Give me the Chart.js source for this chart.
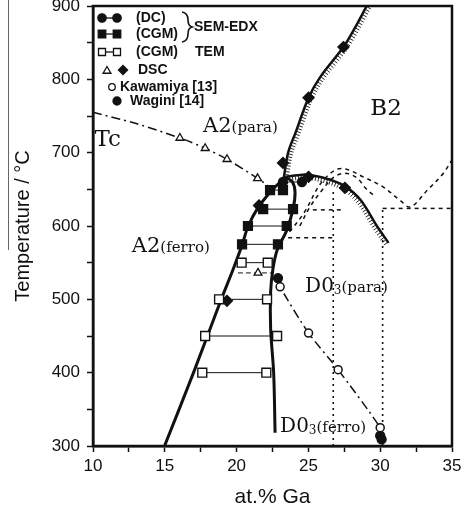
<!DOCTYPE html>
<html>
<head>
<meta charset="utf-8">
<script src="https://cdn.jsdelivr.net/npm/chart.js@4.4.1/dist/chart.umd.min.js"></script>
<style>
  html, body { margin: 0; padding: 0; background: #fff; }
  canvas { display: block; }
</style>
</head>
<body>
<canvas id="chart" width="462" height="511"></canvas>
<script>
const INK = '#111';

// --- phase boundaries (at.% Ga / °C) ---
const leftBoundGa = [14.98, 17.0, 18.93, 19.74, 20.38, 20.79, 21.49, 22.33, 23.03, 23.28];
const leftBoundT = [300, 400, 500, 540, 574, 599, 625, 646, 660, 665];
const rightBoundGa = [22.68, 22.58, 22.37, 22.37, 22.52, 22.82, 23.49, 23.94, 24.07, 23.89, 23.39];
const rightBoundT = [318, 400, 460, 510, 540, 567, 594, 624, 646, 660, 667];
const b2Ga = [23.28, 23.59, 24.1, 25.01, 25.82, 27.44, 28.15, 29.06];
const b2T = [665, 700, 727, 775, 803, 844, 867, 900];
const d03Ga = [23.39, 24.6, 25.31, 26.53, 27.64, 28.65, 29.77, 30.58];
const d03T = [667, 670, 669, 663, 653, 635, 600, 577];
const tcGa = [10, 12.95, 16.05, 17.81, 19.33, 21.46, 22.37];
const tcT = [755, 740, 720, 706, 691, 665, 652];
const kawaLineGa = [22.88, 23.03, 25.01, 27.07, 30.0, 30.25];
const kawaLineT = [532, 517, 454, 404, 325, 303];

// metastable (dashed / dotted)
const metaV1Ga = [26.73, 26.73], metaV1T = [300, 650];
const metaH1Ga = [23.59, 26.73], metaH1T = [584, 584];
const metaV2Ga = [30.17, 30.17], metaV2T = [300, 624];
const metaH2Ga = [30.17, 35.0], metaH2T = [624, 624];
const metaH3Ga = [25.31, 27.34], metaH3T = [622, 622];
const metaArcGa = [23.69, 24.7, 25.82, 26.83, 27.54, 28.82, 30.22, 31.39, 32.1, 33.29, 34.4, 35];
const metaArcT = [592, 618, 657, 676, 678, 667, 653, 635, 626, 649, 672, 690];
const metaArc2Ga = [24.4, 25.11, 25.92, 26.73, 27.54, 28.35, 29.06, 29.67];
const metaArc2T = [600, 626, 648, 666, 672, 666, 650, 640];

// --- measured points ---
const dcGa = [23.23, 24.55], dcT = [660, 660];
const semLeftGa = [22.33, 21.85, 20.79, 20.38];
const semRightGa = [23.23, 23.93, 23.49, 22.88];
const semT = [649, 623, 600, 575];
const temLeftGa = [20.35, 18.78, 17.81, 17.61];
const temRightGa = [22.17, 22.12, 22.82, 22.07];
const temT = [550, 500, 450, 400];
const dscTieGa = [20.09, 22.47], dscTieT = [536, 536];
const dscTriGa = [16.05, 17.81, 19.33, 21.46, 21.49];
const dscTriT = [720, 706, 691, 665, 536];
const dscDiaGa = [19.33, 21.56, 23.23, 25.01, 27.44, 25.01, 27.54];
const dscDiaT = [498, 628, 686, 775, 844, 667, 652];
const kawaGa = [23.03, 25.01, 27.07, 30.0];
const kawaT = [517, 454, 404, 325];
const waginiGa = [22.88, 30.0, 30.1];
const waginiT = [529, 314, 309];

// axis ticks
const xMin = 10, xMax = 35, xStep = 2.5;
const yMin = 300, yMax = 900, yStep = 50;

const pts = (xs, ys) => xs.map((x, i) => ({x: x, y: ys[i]}));
function tiePts(lefts, rights, ts) {
    const out = [];
    ts.forEach((t, i) => {
        out.push({x: lefts[i], y: t}, {x: rights[i], y: t}, {x: NaN, y: NaN});
    });
    return out;
}
function lineSet(data, style) {
    return Object.assign({data: data, showLine: true, pointRadius: 0, borderColor: INK,
        borderWidth: 1.5, fill: false, tension: 0, spanGaps: false}, style);
}
function markSet(data, style) {
    return Object.assign({data: data, showLine: false, pointBorderColor: INK,
        pointBackgroundColor: INK, pointBorderWidth: 1.3}, style);
}

const datasets = [
    // markers on top
    markSet(pts(dcGa, dcT), {pointStyle: 'circle', pointRadius: 4.5}),
    markSet(pts(semLeftGa, semT).concat(pts(semRightGa, semT)), {pointStyle: 'rect', pointRadius: 6.3}),
    markSet(pts(temLeftGa, temT).concat(pts(temRightGa, temT)), {pointStyle: 'rect', pointRadius: 6.3, pointBackgroundColor: '#fff', pointBorderWidth: 1.4}),
    markSet(pts(dscDiaGa, dscDiaT), {pointStyle: 'rectRot', pointRadius: 5.5}),
    markSet(pts(dscTriGa, dscTriT), {pointStyle: 'triangle', pointRadius: 4.5, pointBackgroundColor: '#fff', pointBorderWidth: 1.3}),
    markSet(pts(kawaGa, kawaT), {pointStyle: 'circle', pointRadius: 4, pointBackgroundColor: '#fff', pointBorderWidth: 1.5}),
    markSet(pts(waginiGa, waginiT), {pointStyle: 'circle', pointRadius: 4.5}),
    // tie lines
    lineSet(tiePts(semLeftGa, semRightGa, semT), {borderWidth: 1}),
    lineSet(tiePts(temLeftGa, temRightGa, temT), {borderWidth: 1}),
    lineSet(pts(dcGa, dcT), {borderWidth: 1}),
    lineSet(pts(dscTieGa, dscTieT), {borderWidth: 1, borderDash: [5, 3]}),
    // solid boundaries
    lineSet(pts(leftBoundGa, leftBoundT), {borderWidth: 3, tension: 0.35}),
    lineSet(pts(rightBoundGa, rightBoundT), {borderWidth: 3, tension: 0.35}),
    lineSet(pts(b2Ga, b2T), {borderWidth: 2.5, tension: 0.35, hatch: true}),
    lineSet(pts(d03Ga, d03T), {borderWidth: 2.5, tension: 0.35, hatch: true}),
    // dash-dot lines
    lineSet(pts(tcGa, tcT), {borderWidth: 1.5, tension: 0.3, borderDash: [9, 4, 2, 4]}),
    lineSet(pts(kawaLineGa, kawaLineT), {borderWidth: 1.5, tension: 0.2, borderDash: [9, 4, 2, 4]}),
    // metastable
    lineSet(pts(metaV1Ga, metaV1T), {borderWidth: 1.6, borderDash: [2, 4]}),
    lineSet(pts(metaV2Ga, metaV2T), {borderWidth: 1.6, borderDash: [2, 4]}),
    lineSet(pts(metaH1Ga, metaH1T), {borderWidth: 1.5, borderDash: [4, 4]}),
    lineSet(pts(metaH2Ga, metaH2T), {borderWidth: 1.5, borderDash: [4, 4]}),
    lineSet(pts(metaH3Ga, metaH3T), {borderWidth: 1.5, borderDash: [4, 4]}),
    lineSet(pts(metaArcGa, metaArcT), {borderWidth: 1.5, borderDash: [4, 4], tension: 0.35}),
    lineSet(pts(metaArc2Ga, metaArc2T), {borderWidth: 1.5, borderDash: [4, 4], tension: 0.35})
];

// sample a drawn (bezier) line into a polyline
function samplePath(points) {
    const poly = [];
    for (let i = 0; i < points.length - 1; i++) {
        const a = points[i], b = points[i + 1];
        const c1x = a.cp2x ?? a.x, c1y = a.cp2y ?? a.y;
        const c2x = b.cp1x ?? b.x, c2y = b.cp1y ?? b.y;
        for (let t = 0; t < 1; t += 0.05) {
            const m = 1 - t;
            poly.push({
                x: m * m * m * a.x + 3 * m * m * t * c1x + 3 * m * t * t * c2x + t * t * t * b.x,
                y: m * m * m * a.y + 3 * m * m * t * c1y + 3 * m * t * t * c2y + t * t * t * b.y
            });
        }
    }
    const last = points[points.length - 1];
    poly.push({x: last.x, y: last.y});
    return poly;
}

const hatchPlugin = {
    id: 'hatch',
    afterDatasetsDraw(chart) {
        const ctx = chart.ctx;
        const area = chart.chartArea;
        ctx.save();
        ctx.beginPath();
        ctx.rect(area.left, area.top, area.right - area.left, area.bottom - area.top);
        ctx.clip();
        ctx.strokeStyle = INK;
        ctx.lineWidth = 0.9;
        chart.data.datasets.forEach((ds, i) => {
            if (!ds.hatch) return;
            const poly = samplePath(chart.getDatasetMeta(i).data);
            let next = 4;
            let acc = 0;
            for (let k = 0; k < poly.length - 1; k++) {
                const p = poly[k], q = poly[k + 1];
                const dx = q.x - p.x, dy = q.y - p.y;
                const L = Math.hypot(dx, dy);
                if (!L) continue;
                while (acc + L >= next) {
                    const f = (next - acc) / L;
                    const x = p.x + dx * f, y = p.y + dy * f;
                    const nx = -dy / L, ny = dx / L;
                    ctx.beginPath();
                    ctx.moveTo(x + nx * 1, y + ny * 1);
                    ctx.lineTo(x + nx * 5, y + ny * 5);
                    ctx.stroke();
                    next += 3;
                }
                acc += L;
            }
        });
        ctx.restore();
    }
};

// region labels: [x (at.% Ga), baseline (°C), pieces]
const SERIF = "'DejaVu Serif', 'Liberation Serif', serif";
const regionLabels = [
    [10.1, 709, [['Tc', '23px ' + SERIF, 0]]],
    [17.66, 728, [['A2', '21px ' + SERIF, 0], ['(para)', '15px ' + SERIF, 0]]],
    [29.31, 752, [['B2', '23px ' + SERIF, 0]]],
    [12.7, 565, [['A2', '21px ' + SERIF, 0], ['(ferro)', '15px ' + SERIF, 0]]],
    [24.77, 510, [['D0', '20px ' + SERIF, 0], ['3', '12px ' + SERIF, 2], ['(para)', '15px ' + SERIF, 0]]],
    [23.03, 319, [['D0', '20px ' + SERIF, 0], ['3', '12px ' + SERIF, 2], ['(ferro)', '15px ' + SERIF, 0]]]
];

function drawPieces(ctx, x, y, pieces) {
    ctx.textAlign = 'left';
    ctx.textBaseline = 'alphabetic';
    pieces.forEach(([t, f, dy]) => {
        ctx.font = f;
        ctx.fillText(t, x, y + dy);
        x += ctx.measureText(t).width;
    });
}

function mDot(ctx, x, y, r, filled) {
    ctx.beginPath();
    ctx.arc(x, y, r, 0, Math.PI * 2);
    ctx.fillStyle = filled ? INK : '#fff';
    ctx.fill();
    ctx.stroke();
}
function mSq(ctx, x, y, s, filled) {
    ctx.beginPath();
    ctx.rect(x - s / 2, y - s / 2, s, s);
    ctx.fillStyle = filled ? INK : '#fff';
    ctx.fill();
    ctx.stroke();
}
function mTri(ctx, x, y, r) {
    ctx.beginPath();
    ctx.moveTo(x, y - r);
    ctx.lineTo(x + r * 0.87, y + r * 0.5);
    ctx.lineTo(x - r * 0.87, y + r * 0.5);
    ctx.closePath();
    ctx.fillStyle = '#fff';
    ctx.fill();
    ctx.stroke();
}
function mDia(ctx, x, y, r) {
    ctx.beginPath();
    ctx.moveTo(x, y - r);
    ctx.lineTo(x + r, y);
    ctx.lineTo(x, y + r);
    ctx.lineTo(x - r, y);
    ctx.closePath();
    ctx.fillStyle = INK;
    ctx.fill();
}

const decorPlugin = {
    id: 'decor',
    afterDraw(chart) {
        const ctx = chart.ctx;
        const a = chart.chartArea;
        const xs = chart.scales.x, ys = chart.scales.y;
        ctx.save();
        // frame
        ctx.strokeStyle = INK;
        ctx.lineWidth = 2.5;
        ctx.strokeRect(a.left, a.top, a.right - a.left, a.bottom - a.top);

        // scan edge line at far left
        ctx.strokeStyle = '#666';
        ctx.lineWidth = 1;
        ctx.beginPath();
        ctx.moveTo(8.5, 0);
        ctx.lineTo(8.5, 250);
        ctx.stroke();

        // region labels
        ctx.fillStyle = INK;
        regionLabels.forEach(([gx, t, pieces]) => {
            drawPieces(ctx, xs.getPixelForValue(gx), ys.getPixelForValue(t), pieces);
        });

        // legend box (top-left)
        const L = a.left - 1, T = a.top;
        ctx.strokeStyle = INK;
        ctx.lineWidth = 1.3;
        const rows = [12, 28, 46, 64, 81, 95];
        const m1 = L + 10, m2 = L + 25;
        // (DC)
        ctx.beginPath(); ctx.moveTo(m1, T + rows[0]); ctx.lineTo(m2, T + rows[0]); ctx.stroke();
        mDot(ctx, m1, T + rows[0], 4.2, true);
        mDot(ctx, m2, T + rows[0], 4.2, true);
        // (CGM) SEM
        ctx.beginPath(); ctx.moveTo(m1, T + rows[1]); ctx.lineTo(m2, T + rows[1]); ctx.stroke();
        mSq(ctx, m1, T + rows[1], 7.5, true);
        mSq(ctx, m2, T + rows[1], 7.5, true);
        // (CGM) TEM
        ctx.beginPath(); ctx.moveTo(m1, T + rows[2]); ctx.lineTo(m2, T + rows[2]); ctx.stroke();
        mSq(ctx, m1, T + rows[2], 7, false);
        mSq(ctx, m2, T + rows[2], 7, false);
        // DSC
        mTri(ctx, L + 15, T + rows[3] + 1, 4.5);
        mDia(ctx, L + 31, T + rows[3], 5.5);
        // Kawamiya, Wagini
        mDot(ctx, L + 20, T + rows[4], 3.3, false);
        mDot(ctx, L + 25, T + rows[5], 4, true);

        // brace
        ctx.lineWidth = 1.6;
        ctx.beginPath();
        ctx.moveTo(L + 90, T + 6);
        ctx.quadraticCurveTo(L + 96, T + 7, L + 96, T + 14);
        ctx.quadraticCurveTo(L + 96, T + 20, L + 100, T + 21);
        ctx.quadraticCurveTo(L + 96, T + 22, L + 96, T + 28);
        ctx.quadraticCurveTo(L + 96, T + 35, L + 90, T + 36);
        ctx.stroke();

        ctx.fillStyle = INK;
        ctx.font = "bold 14px 'Liberation Sans', Arial, sans-serif";
        ctx.textAlign = 'left';
        ctx.textBaseline = 'middle';
        ctx.fillText('(DC)', L + 44, T + rows[0]);
        ctx.fillText('(CGM)', L + 44, T + rows[1]);
        ctx.fillText('SEM-EDX', L + 102, T + 21);
        ctx.fillText('(CGM)', L + 44, T + rows[2]);
        ctx.fillText('TEM', L + 103, T + rows[2]);
        ctx.fillText('DSC', L + 46, T + rows[3]);
        ctx.fillText('Kawamiya [13]', L + 28, T + rows[4]);
        ctx.fillText('Wagini [14]', L + 38, T + rows[5]);
        ctx.restore();
    }
};

const SANS = "'Liberation Sans', Arial, sans-serif";

new Chart(document.getElementById('chart'), {
    type: 'scatter',
    data: {datasets: datasets},
    options: {
        responsive: false,
        animation: false,
        devicePixelRatio: 1,
        layout: {autoPadding: false, padding: {left: 0, right: 10, top: 6, bottom: 0}},
        plugins: {legend: {display: false}, tooltip: {enabled: false}},
        scales: {
            x: {
                type: 'linear', min: xMin, max: xMax, position: 'bottom',
                afterFit: (s) => { s.height = 65; s.paddingLeft = 0; s.paddingRight = 0; },
                ticks: {
                    stepSize: xStep, autoSkip: false, maxRotation: 0, padding: 4,
                    color: INK, font: {family: SANS, size: 17},
                    callback: (v) => (v % 5 === 0 ? v : '')
                },
                grid: {drawOnChartArea: false, drawTicks: true, tickLength: 6, tickWidth: 1.5, tickColor: INK},
                border: {display: true, color: INK, width: 2.5},
                title: {display: true, text: 'at.% Ga', color: INK, font: {family: SANS, size: 21}, padding: {top: 0, bottom: 1}}
            },
            y: {
                type: 'linear', min: yMin, max: yMax, position: 'left',
                afterFit: (s) => { s.width = 93; s.paddingTop = 0; s.paddingBottom = 0; },
                ticks: {
                    stepSize: yStep, autoSkip: false, padding: 7,
                    color: INK, font: {family: SANS, size: 17},
                    callback: (v) => (v % 100 === 0 ? v : '')
                },
                grid: {drawOnChartArea: false, drawTicks: true, tickLength: 6, tickWidth: 1.5, tickColor: INK},
                border: {display: true, color: INK, width: 2.5},
                title: {display: true, text: 'Temperature / °C', color: INK, font: {family: SANS, size: 20}, padding: {top: 11, bottom: 0}}
            }
        }
    },
    plugins: [hatchPlugin, decorPlugin]
});
</script>
</body>
</html>
